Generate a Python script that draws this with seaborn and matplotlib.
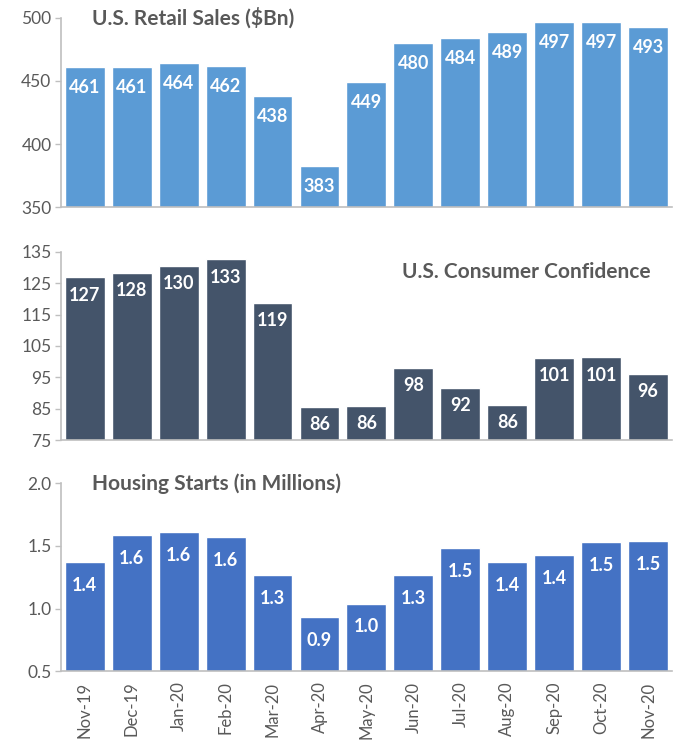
import matplotlib
matplotlib.use('Agg')
import matplotlib.pyplot as plt
import seaborn as sns
import pandas as pd

# data
months = ['Nov-19', 'Dec-19', 'Jan-20', 'Feb-20', 'Mar-20', 'Apr-20', 'May-20',
          'Jun-20', 'Jul-20', 'Aug-20', 'Sep-20', 'Oct-20', 'Nov-20']
retail_sales = [461, 461, 464, 462, 438, 383, 449, 480, 484, 489, 497, 497, 493]
consumer_conf = [126.8, 128.2, 130.4, 132.6, 118.8, 85.7, 85.9, 98.1, 91.7, 86.3, 101.3, 101.4, 96.1]
housing_starts = [1.37, 1.59, 1.61, 1.57, 1.27, 0.93, 1.04, 1.27, 1.48, 1.37, 1.43, 1.53, 1.54]

retail_ticks = [350, 400, 450, 500]
conf_ticks = [75, 85, 95, 105, 115, 125, 135]
housing_ticks = [0.5, 1.0, 1.5, 2.0]

sns.set_style('white')
plt.rcParams['font.family'] = ['Lato', 'DejaVu Sans']

TXT = '#595959'
AXC = '#BFBFBF'

fig = plt.figure(figsize=(6.73, 7.4), dpi=100)
ax1 = fig.add_axes([0.091, 0.720, 0.907, 0.256])
ax2 = fig.add_axes([0.091, 0.405, 0.907, 0.255])
ax3 = fig.add_axes([0.091, 0.093, 0.907, 0.254])


def draw_panel(ax, values, color, ticks, fmt, pad):
    df = pd.DataFrame({'month': months, 'value': values})
    sns.barplot(data=df, x='month', y='value', color=color, width=0.85,
                saturation=1, ax=ax)
    ax.set_ylim(ticks[0], ticks[-1])
    ax.set_yticks(ticks)
    ax.set_xlim(-0.5, len(months) - 0.5)
    ax.set_xlabel('')
    ax.set_ylabel('')
    for s in ['top', 'right']:
        ax.spines[s].set_visible(False)
    for s in ['left', 'bottom']:
        ax.spines[s].set_color(AXC)
        ax.spines[s].set_linewidth(1.2)
    ax.tick_params(axis='y', colors=AXC, labelcolor=TXT, labelsize=12.5,
                   length=4, width=1, pad=3, left=True)
    ax.tick_params(axis='x', bottom=False)
    labels = [fmt.format(v) for v in values]
    ax.bar_label(ax.containers[0], labels=labels, padding=pad, color='white',
                 fontsize=13, fontweight='bold')


draw_panel(ax1, retail_sales, '#5B9BD5', retail_ticks, '{:.0f}', -21)
draw_panel(ax2, consumer_conf, '#44546A', conf_ticks, '{:.0f}', -19)
draw_panel(ax3, housing_starts, '#4472C4', housing_ticks, '{:.1f}', -23)

ax1.set_xticklabels([])
ax2.set_xticklabels([])
ax3.set_xticklabels(months, rotation=90, color=TXT, fontsize=12)
ax3.tick_params(axis='x', pad=4)

ax1.text(0.05, 1.0, 'U.S. Retail Sales ($Bn)', transform=ax1.transAxes,
         ha='left', va='center', fontsize=15, fontweight='bold', color=TXT)
ax2.text(0.965, 0.894, 'U.S. Consumer Confidence', transform=ax2.transAxes,
         ha='right', va='center', fontsize=15, fontweight='bold', color=TXT)
ax3.text(0.05, 1.0, 'Housing Starts (in Millions)', transform=ax3.transAxes,
         ha='left', va='center', fontsize=15, fontweight='bold', color=TXT)

fig.savefig('out.png', dpi=100)
